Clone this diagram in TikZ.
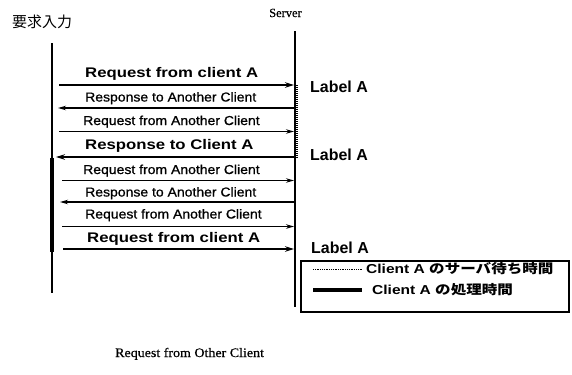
\documentclass[tikz,border=0pt]{standalone}
\usepackage{fontspec}
\usepackage{graphicx}
\setmainfont{Liberation Sans}
\newfontfamily\medfont[FakeBold=0.8]{Liberation Sans}
\newfontfamily\seriffont[FakeBold=0.6]{Liberation Serif}
\newfontfamily\cjk{Noto Sans CJK JP}
\usetikzlibrary{arrows.meta}
\begin{document}
\begin{tikzpicture}[x=1bp,y=-1bp,
  lifeline/.style={line width=1.2pt},
  msg/.style={line width=1.2pt,-{Stealth[length=8pt,width=4.5pt]}},
  msgA/.style={line width=1.8pt,-{Stealth[length=9pt,width=5.5pt]}},
  small/.style={anchor=base west,inner sep=0pt,font=\medfont\fontsize{13}{15}\selectfont},
  big/.style={anchor=base west,inner sep=0pt,font=\fontsize{14}{16}\selectfont\bfseries},
  lbl/.style={anchor=base west,inner sep=0pt,font=\fontsize{16}{18}\selectfont\bfseries},
  legtext/.style={anchor=base west,inner sep=0pt,font=\fontsize{13}{15}\selectfont\bfseries},
  waitbar/.style={line width=3.5pt,dash pattern=on 0.8pt off 1.2pt},
  busybar/.style={line width=4.5pt},
]
\useasboundingbox (0,0) rectangle (572,374);

% titles
\node[anchor=base west,inner sep=0pt,font=\cjk\fontsize{15}{17}\selectfont] (tin) at (12,27) {要求入力};
\node[anchor=base west,inner sep=0pt,font=\seriffont\fontsize{12.5}{14}\selectfont] (tsrv) at (269,17) {Server};
\node[anchor=base west,inner sep=0pt,font=\seriffont\fontsize{13}{15}\selectfont] (tother) at (115,357) {\scalebox{1.08}[1]{Request from Other Client}};

% lifelines
\coordinate (cTop) at (52,43);
\coordinate (cBot) at (52,293);
\coordinate (sTop) at (295,31);
\coordinate (sBot) at (295,307);
\draw[lifeline] (cTop) -- (cBot);
\draw[lifeline] (sTop) -- (sBot);

% processing time of client A (left) and waiting time (server side)
\coordinate (busyTop) at (52,158);
\coordinate (busyBot) at (52,252);
\draw[busybar] (busyTop) -- (busyBot);
\coordinate (waitTop) at (296.5,85);
\coordinate (waitBot) at (296.5,157);
\draw[waitbar] (waitTop) -- (waitBot);

% message end points
\coordinate (c1) at (59,85);    \coordinate (s1) at (294,85);
\coordinate (c2) at (58,108);   \coordinate (s2) at (294,108);
\coordinate (c3) at (59,131.5); \coordinate (s3) at (294,131.5);
\coordinate (c4) at (56,157);   \coordinate (s4) at (294,157);
\coordinate (c5) at (62,180.5); \coordinate (s5) at (294,180.5);
\coordinate (c6) at (60,202);   \coordinate (s6) at (294,202);
\coordinate (c7) at (62,226.5); \coordinate (s7) at (294,226.5);
\coordinate (c8) at (63,249);   \coordinate (s8) at (294,249);

\draw[msgA] (c1) -- (s1);
\draw[msg]  (s2) -- (c2);
\draw[msg]  (c3) -- (s3);
\draw[msgA] (s4) -- (c4);
\draw[msg]  (c5) -- (s5);
\draw[msg]  (s6) -- (c6);
\draw[msg]  (c7) -- (s7);
\draw[msgA] (c8) -- (s8);

% message labels
\node[big]   (m1) at (85,77.5)  {\scalebox{1.2}[1]{Request from client A}};
\node[small] (m2) at (85,101.5) {\scalebox{1.08}[1]{Response to Another Client}};
\node[small] (m3) at (83,125)   {\scalebox{1.08}[1]{Request from Another Client}};
\node[big]   (m4) at (85,149.5) {\scalebox{1.2}[1]{Response to Client A}};
\node[small] (m5) at (83,174)   {\scalebox{1.08}[1]{Request from Another Client}};
\node[small] (m6) at (85,196.5) {\scalebox{1.08}[1]{Response to Another Client}};
\node[small] (m7) at (85,218.5) {\scalebox{1.08}[1]{Request from Another Client}};
\node[big]   (m8) at (87,242.5) {\scalebox{1.2}[1]{Request from client A}};

% server-side labels
\node[lbl] (la1) at (310,92)  {Label A};
\node[lbl] (la2) at (310,160) {Label A};
\node[lbl] (la3) at (311,253) {Label A};

% legend
\draw[line width=1.2pt] (301,261) rectangle (569,312);
\coordinate (k1a) at (313,269); \coordinate (k1b) at (363,269);
\coordinate (k2a) at (313,290); \coordinate (k2b) at (362,290);
\draw[line width=1pt,dash pattern=on 0.9pt off 0.9pt] (k1a) -- (k1b);
\draw[busybar] (k2a) -- (k2b);
\node[legtext] (k1t) at (366,273) {\scalebox{1.2}[1]{Client A {\cjk のサーバ待ち時間}}};
\node[legtext] (k2t) at (372,294) {\scalebox{1.2}[1]{Client A {\cjk の処理時間}}};
\end{tikzpicture}
\end{document}
